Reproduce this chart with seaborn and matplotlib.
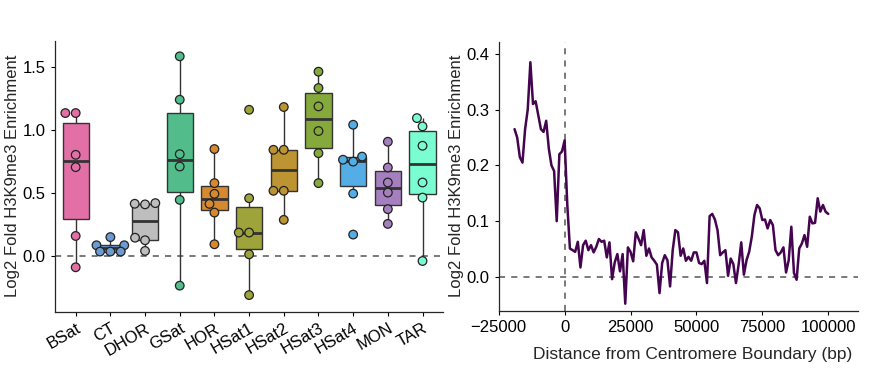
import numpy as np
import pandas as pd
import matplotlib
matplotlib.use("Agg")
import matplotlib.pyplot as plt
import seaborn as sns

# Left panel: per-repeat log2 fold enrichment (6 replicates each)
categories = ["BSat", "CT", "DHOR", "GSat", "HOR", "HSat1", "HSat2",
              "HSat3", "HSat4", "MON", "TAR"]
bsat = [1.136, 1.136, 0.804, 0.706, 0.159, -0.090]
ct = [0.150, 0.085, 0.085, 0.035, 0.035, 0.035]
dhor = [0.420, 0.415, 0.410, 0.145, 0.125, 0.040]
gsat = [1.587, 1.242, 0.809, 0.711, 0.446, -0.236]
hor = [0.850, 0.579, 0.494, 0.414, 0.345, 0.093]
hsat1 = [1.162, 0.459, 0.186, 0.186, 0.013, -0.311]
hsat2 = [1.184, 0.844, 0.844, 0.518, 0.518, 0.287]
hsat3 = [1.465, 1.335, 1.189, 0.993, 0.817, 0.579]
hsat4 = [1.043, 0.790, 0.765, 0.750, 0.496, 0.170]
mon = [0.908, 0.703, 0.584, 0.504, 0.372, 0.255]
tar = [1.096, 1.030, 0.876, 0.584, 0.464, -0.040]
box_colors = ["#E36FA7", "#6C9BD2", "#BEBEBE", "#52BD8B", "#D7892F", "#9EA33A",
              "#BC9432", "#86A93B", "#54AEE5", "#A680BE", "#7BFDD2"]

# Right panel: enrichment profile around the centromere boundary
dist_bp = np.arange(-19000, 100001, 1000)
profile = [0.265, 0.25, 0.215, 0.205, 0.265, 0.30, 0.385, 0.31, 0.315, 0.29,
           0.265, 0.26, 0.28, 0.23, 0.20, 0.19, 0.10, 0.22, 0.225, 0.245,
           0.13,
           0.051, 0.048, 0.045, 0.063, 0.017, 0.057, 0.065, 0.048, 0.057, 0.044,
           0.054, 0.068, 0.063, 0.065, 0.035, 0.062, -0.004, 0.026, 0.041, 0.010,
           0.041, -0.048, 0.053, 0.045, 0.028, 0.080, 0.069, 0.057, 0.084, 0.038,
           0.051, 0.035, 0.029, 0.022, -0.029, 0.025, 0.039, 0.030, -0.017, 0.048,
           0.084, 0.080, 0.038, 0.051, 0.029, 0.036, 0.029, 0.044, 0.044, 0.025,
           0.023, 0.029, -0.011, 0.109, 0.113, 0.103, 0.084, 0.039, 0.044, 0.048,
           0.002, 0.033, 0.023, -0.011, 0.022, 0.062, 0.004, 0.030, 0.045, 0.072,
           0.111, 0.129, 0.123, 0.102, 0.103, 0.087, 0.102, 0.093, 0.048, 0.039,
           0.044, 0.053, 0.008, 0.030, 0.090, 0.007, -0.005, 0.051, 0.060, 0.075,
           0.054, 0.108, 0.096, 0.097, 0.141, 0.117, 0.129, 0.117, 0.113]

sns.set_style("ticks")
plt.rcParams["font.family"] = ["Liberation Sans", "DejaVu Sans"]
plt.rcParams["font.size"] = 12

groups = [bsat, ct, dhor, gsat, hor, hsat1, hsat2, hsat3, hsat4, mon, tar]
df = pd.DataFrame({
    "repeat": np.repeat(categories, [len(g) for g in groups]),
    "enrich": np.concatenate(groups),
})
pal = dict(zip(categories, box_colors))

fig = plt.figure(figsize=(8.71, 3.68), dpi=100)
ax1 = fig.add_axes([0.063, 0.153, 0.446, 0.736])
ax2 = fig.add_axes([0.5726, 0.155, 0.4128, 0.732])

sns.boxplot(data=df, x="repeat", y="enrich", hue="repeat", palette=pal,
            order=categories, showfliers=False, showcaps=False, width=0.76,
            linecolor="#333333", linewidth=1.0, saturation=1,
            medianprops=dict(linewidth=2, color="#333333"), legend=False, ax=ax1)
sns.swarmplot(data=df, x="repeat", y="enrich", hue="repeat", palette=pal,
              order=categories, size=6.2, edgecolor="#222222", linewidth=0.9,
              legend=False, ax=ax1)
ax1.axhline(0, color="#555555", ls=(0, (4, 4)), lw=1.1, zorder=0)
ax1.set_xlim(-0.6, 10.6)
ax1.set_ylim(-0.443, 1.71)
ax1.set_yticks([0.0, 0.5, 1.0, 1.5])
ax1.set_xlabel("")
ax1.set_ylabel("Log2 Fold H3K9me3 Enrichment", fontsize=12, labelpad=2)
plt.setp(ax1.get_xticklabels(), rotation=30, ha="right", rotation_mode="anchor")

sns.lineplot(x=dist_bp, y=profile, color="#44044F", lw=1.8, ax=ax2)
ax2.axhline(0, color="#555555", ls=(0, (4, 4)), lw=1.1, zorder=0)
ax2.axvline(0, color="#555555", ls=(0, (4, 4)), lw=1.1, zorder=0)
ax2.set_xlim(-25000, 111400)
ax2.set_ylim(-0.061, 0.422)
ax2.set_xticks([-25000, 0, 25000, 50000, 75000, 100000])
ax2.set_yticks([0.0, 0.1, 0.2, 0.3, 0.4])
ax2.set_xlabel("Distance from Centromere Boundary (bp)", fontsize=12.5)
ax2.xaxis.set_label_coords(0.54, -0.135)
ax2.set_ylabel("Log2 Fold H3K9me3 Enrichment", fontsize=12, labelpad=2)

for ax in (ax1, ax2):
    sns.despine(ax=ax)
    ax.tick_params(labelsize=12, length=3, width=0.8, colors="black")
    for s in ("left", "bottom"):
        ax.spines[s].set_linewidth(0.9)

fig.savefig("out.png", dpi=100)
